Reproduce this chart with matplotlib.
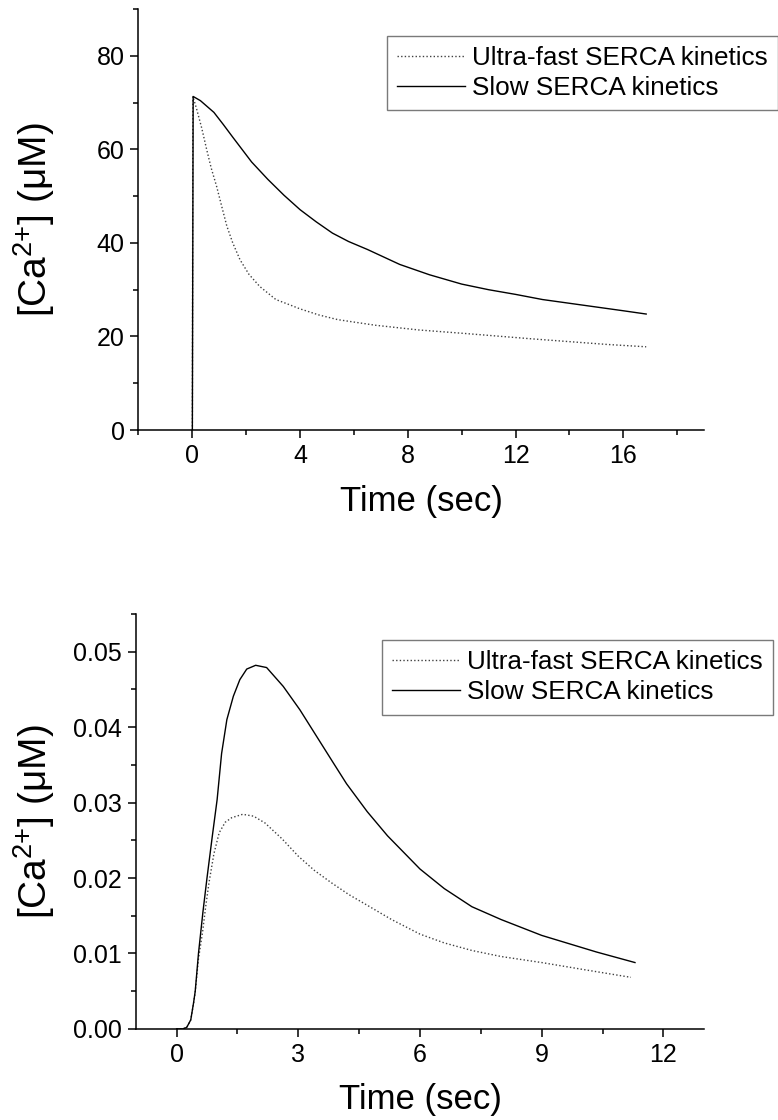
import numpy as np
import matplotlib
matplotlib.use("Agg")
import matplotlib.pyplot as plt
from matplotlib.ticker import MultipleLocator

plt.rcParams['font.family'] = ['Liberation Sans', 'DejaVu Sans']
plt.rcParams['mathtext.fontset'] = 'custom'
plt.rcParams['mathtext.rm'] = 'Liberation Sans'
plt.rcParams['mathtext.it'] = 'Liberation Sans:italic'

# --- datos panel superior ---
t_fast_top = [0, 0.02, 0.16, 0.35, 0.53, 0.7, 0.9, 1.1, 1.28, 1.5, 1.77, 2.1, 2.5, 3.1, 3.6, 4.0, 4.7,
              5.4, 6.8, 8.4, 10.0, 11.3, 12.6, 14.0, 15.4, 16.85]
ca_fast_top = [0, 71.3, 68.6, 64.5, 60.0, 56.0, 52.1, 47.6, 43.6, 40.0, 36.4, 33.3, 30.7, 27.9, 26.8, 25.9, 24.6,
               23.6, 22.4, 21.4, 20.7, 20.1, 19.5, 18.9, 18.3, 17.8]

t_slow_top = [0, 0.03, 0.3, 0.8, 1.15, 1.5, 2.2, 2.8, 3.4, 4.0, 4.6, 5.2, 5.8, 6.5, 7.1, 7.7, 8.8, 10.0, 11.0,
              12.0, 13.0, 14.0, 15.0, 16.0, 16.85]
ca_slow_top = [0, 71.3, 70.4, 67.9, 65.3, 62.6, 57.3, 53.6, 50.2, 47.1, 44.5, 42.1, 40.3, 38.6, 37.0, 35.4, 33.2,
               31.2, 30.0, 29.0, 27.9, 27.1, 26.3, 25.5, 24.8]

# --- datos panel inferior ---
t_fast_bot = [0, 0.15, 0.25, 0.35, 0.42, 0.46, 0.54, 0.64, 0.72, 0.8, 0.92, 1.05, 1.2, 1.36, 1.63, 1.9, 2.18,
              2.6, 3.0, 3.4, 3.81, 4.25, 4.73, 5.3, 6.0, 6.6, 7.28, 8.0, 9.0, 10.0, 11.2]
ca_fast_bot = [0, 0, 0.0002, 0.0012, 0.0034, 0.0049, 0.0093, 0.0128, 0.0163, 0.0194, 0.0232, 0.026, 0.0274,
               0.028, 0.02845, 0.0282, 0.0273, 0.0252, 0.0229, 0.021, 0.0194, 0.0178, 0.0163, 0.0145, 0.01257,
               0.0114, 0.0104, 0.0096, 0.0088, 0.0079, 0.00684]

t_slow_bot = [0, 0.15, 0.25, 0.35, 0.42, 0.46, 0.54, 0.65, 0.75, 0.88, 1.0, 1.11, 1.24, 1.4, 1.56, 1.73, 1.95,
              2.22, 2.63, 3.04, 3.45, 3.86, 4.19, 4.7, 5.2, 6.0, 6.6, 7.28, 8.0, 9.0, 10.35, 11.3]
ca_slow_bot = [0, 0, 0.0002, 0.0012, 0.0035, 0.005, 0.010, 0.0155, 0.020, 0.0255, 0.0304, 0.0365, 0.041,
               0.0441, 0.0463, 0.0477, 0.0482, 0.0479, 0.0454, 0.0423, 0.0388, 0.0353, 0.0325, 0.0288,
               0.0256, 0.0212, 0.0186, 0.0162, 0.0145, 0.0124, 0.0102, 0.0088]

lbl_fast = "Ultra-fast SERCA kinetics"
lbl_slow = "Slow SERCA kinetics"
ylabel = "[Ca$^{2{+}}$] (μM)"
xlabel = "Time (sec)"

fig = plt.figure(figsize=(7.78, 11.2), dpi=100)
ax1 = fig.add_axes([0.178, 0.616, 0.727, 0.376])
ax2 = fig.add_axes([0.1748, 0.0813, 0.730, 0.3705])


def estilo(ax):
    for s in ['top', 'right']:
        ax.spines[s].set_visible(False)
    for s in ['left', 'bottom']:
        ax.spines[s].set_linewidth(1.1)
    ax.tick_params(which='major', direction='out', length=6, width=1.1, labelsize=18, pad=4)
    ax.tick_params(which='minor', direction='out', length=3.6, width=1.1)


# panel superior
ax1.plot(t_fast_top, ca_fast_top, color='0.25', lw=1.0, ls=(0, (1, 1.6)), label=lbl_fast)
ax1.plot(t_slow_top, ca_slow_top, color='black', lw=1.0, label=lbl_slow)
ax1.set_xlim(-2, 19)
ax1.set_ylim(0, 90)
ax1.xaxis.set_major_locator(MultipleLocator(4))
ax1.xaxis.set_minor_locator(MultipleLocator(2))
ax1.yaxis.set_major_locator(MultipleLocator(20))
ax1.yaxis.set_minor_locator(MultipleLocator(10))
estilo(ax1)
ax1.set_xlabel(xlabel, fontsize=25, labelpad=12)
ax1.set_ylabel(ylabel, fontsize=28)
ax1.yaxis.set_label_coords(-0.144, 0.5)

# panel inferior
ax2.plot(t_fast_bot, ca_fast_bot, color='0.25', lw=1.0, ls=(0, (1, 1.6)), label=lbl_fast)
ax2.plot(t_slow_bot, ca_slow_bot, color='black', lw=1.0, label=lbl_slow)
ax2.set_xlim(-1, 13)
ax2.set_ylim(0, 0.055)
ax2.xaxis.set_major_locator(MultipleLocator(3))
ax2.xaxis.set_minor_locator(MultipleLocator(1.5))
ax2.yaxis.set_major_locator(MultipleLocator(0.01))
ax2.yaxis.set_minor_locator(MultipleLocator(0.005))
ax2.yaxis.set_major_formatter(plt.FuncFormatter(lambda v, p: f"{v:.2f}"))
estilo(ax2)
ax2.set_xlabel(xlabel, fontsize=25, labelpad=12)
ax2.set_ylabel(ylabel, fontsize=28)
ax2.yaxis.set_label_coords(-0.139, 0.5)

for ax, anchor in [(ax1, (0.497, 0.968)), (ax2, (0.491, 0.4286))]:
    leg = ax.legend(loc='upper left', bbox_to_anchor=anchor, bbox_transform=fig.transFigure,
                    fontsize=18.8, frameon=True, fancybox=False, handlelength=2.6,
                    handletextpad=0.25, labelspacing=0.22, borderpad=0.4, borderaxespad=0)
    leg.get_frame().set_edgecolor('0.35')
    leg.get_frame().set_linewidth(1.0)

fig.savefig("out.png", dpi=100)
